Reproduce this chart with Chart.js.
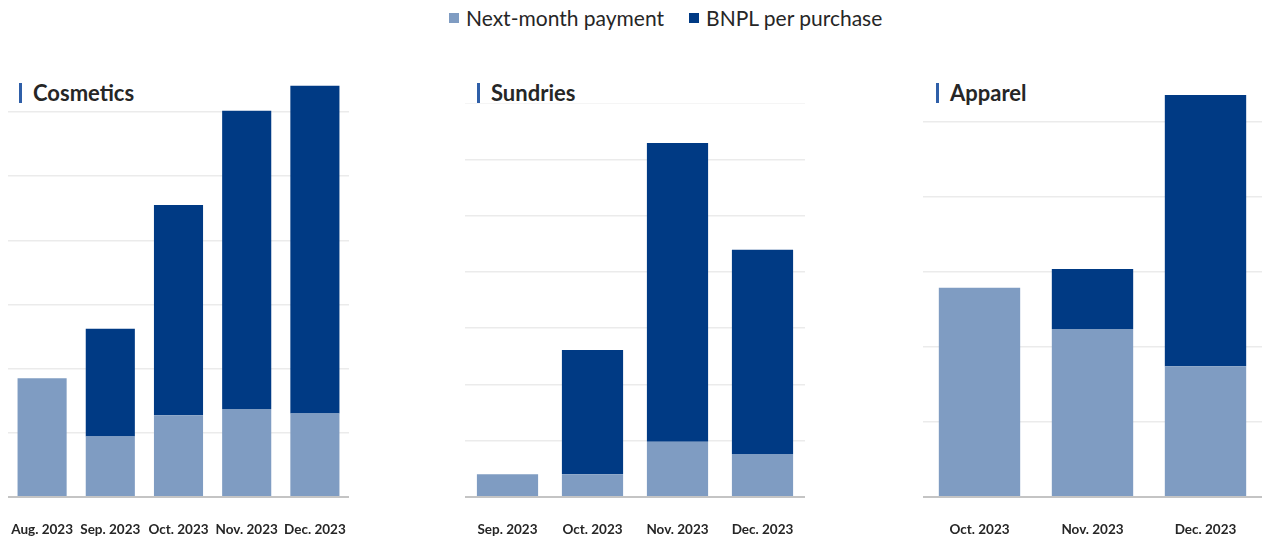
<!DOCTYPE html>
<html lang="en">
<head>
  <meta charset="UTF-8" />
  <title>BNPL usage by category</title>
  <script src="https://cdn.jsdelivr.net/npm/chart.js"></script>
  <style>
    body {
      margin: 0;
      width: 1262px;
      height: 538px;
      background: #fff;
      font-family: Lato, "Liberation Sans", sans-serif;
      color: #262626;
      position: relative;
      overflow: hidden;
    }
    .legend {
      position: absolute;
      top: 5px;
      left: 449px;
      display: flex;
      align-items: center;
      font-size: 21px;
      white-space: nowrap;
    }
    .legend span.sw {
      display: inline-block;
      width: 10px;
      height: 10px;
      margin-right: 7px;
    }
    .legend .item { display: flex; align-items: center; margin-right: 25px; }
    .title {
      position: absolute;
      top: 80px;
      font-size: 22px;
      font-weight: bold;
      line-height: 26px;
    }
    .title::before {
      content: "";
      position: absolute;
      left: -14px;
      top: 3px;
      width: 3px;
      height: 20px;
      background: #2f5fa8;
    }
    .panel { position: absolute; }
  </style>
</head>
<body>
  <div class="legend">
    <div class="item"><span class="sw" style="background:#7f9cc2"></span>Next-month payment</div>
    <div class="item"><span class="sw" style="background:#003a84"></span>BNPL per purchase</div>
  </div>

  <div class="title" style="left:33px">Cosmetics</div>
  <div class="title" style="left:491px">Sundries</div>
  <div class="title" style="left:950px">Apparel</div>

  <div class="panel" style="left:8px; top:80px; width:341px; height:478px"><canvas id="chartCosmetics"></canvas></div>
  <div class="panel" style="left:465px; top:103px; width:340px; height:455px"><canvas id="chartSundries"></canvas></div>
  <div class="panel" style="left:923px; top:92px; width:339px; height:466px"><canvas id="chartApparel"></canvas></div>

  <script>
    // values in gridline units (no axis labels shown)
    const cosmeticsMonths = ["Aug. 2023", "Sep. 2023", "Oct. 2023", "Nov. 2023", "Dec. 2023"];
    const cosmeticsNext = [1.85, 0.94, 1.27, 1.37, 1.30];
    const cosmeticsBnpl = [null, 1.68, 3.28, 4.65, 5.11];

    const sundriesMonths = ["Sep. 2023", "Oct. 2023", "Nov. 2023", "Dec. 2023"];
    const sundriesNext = [0.40, 0.40, 0.98, 0.76];
    const sundriesBnpl = [null, 2.21, 5.31, 3.63];

    const apparelMonths = ["Oct. 2023", "Nov. 2023", "Dec. 2023"];
    const apparelNext = [2.79, 2.24, 1.74];
    const apparelBnpl = [null, 0.80, 3.62];

    const lightBlue = "#7f9cc2";
    const darkBlue = "#003a84";

    function makeChart(id, labels, next, bnpl, yMax) {
      new Chart(document.getElementById(id), {
        type: "bar",
        data: {
          labels: labels,
          datasets: [
            { label: "Next-month payment", data: next, backgroundColor: lightBlue },
            { label: "BNPL per purchase", data: bnpl, backgroundColor: darkBlue }
          ]
        },
        options: {
          responsive: true,
          maintainAspectRatio: false,
          animation: false,
          layout: { padding: { top: 0, bottom: 3, left: 0, right: 0 } },
          datasets: { bar: { barPercentage: 0.72, categoryPercentage: 1 } },
          plugins: { legend: { display: false }, tooltip: { enabled: false } },
          scales: {
            x: {
              stacked: true,
              grid: { display: false },
              border: { color: "#c4c4c4", width: 2 },
              // keep the plot full width, labels may reach the edges
              afterFit: s => { s.paddingLeft = 0; s.paddingRight = 0; },
              ticks: {
                padding: 17,
                color: "#262626",
                maxRotation: 0,
                autoSkip: false,
                font: { family: "Lato", weight: "bold", size: 13.5 }
              }
            },
            y: {
              stacked: true,
              min: 0,
              max: yMax,
              border: { display: false },
              grid: {
                drawTicks: false,
                lineWidth: 1.5,
                color: c => (c.tick.value > 0 && Number.isInteger(c.tick.value)) ? "#ebebeb" : "rgba(0,0,0,0)"
              },
              ticks: { display: false, stepSize: 1 }
            }
          }
        }
      });
    }

    makeChart("chartCosmetics", cosmeticsMonths, cosmeticsNext, cosmeticsBnpl, 6.5);
    makeChart("chartSundries", sundriesMonths, sundriesNext, sundriesBnpl, 7);
    makeChart("chartApparel", apparelMonths, apparelNext, apparelBnpl, 5.4);
  </script>
</body>
</html>
